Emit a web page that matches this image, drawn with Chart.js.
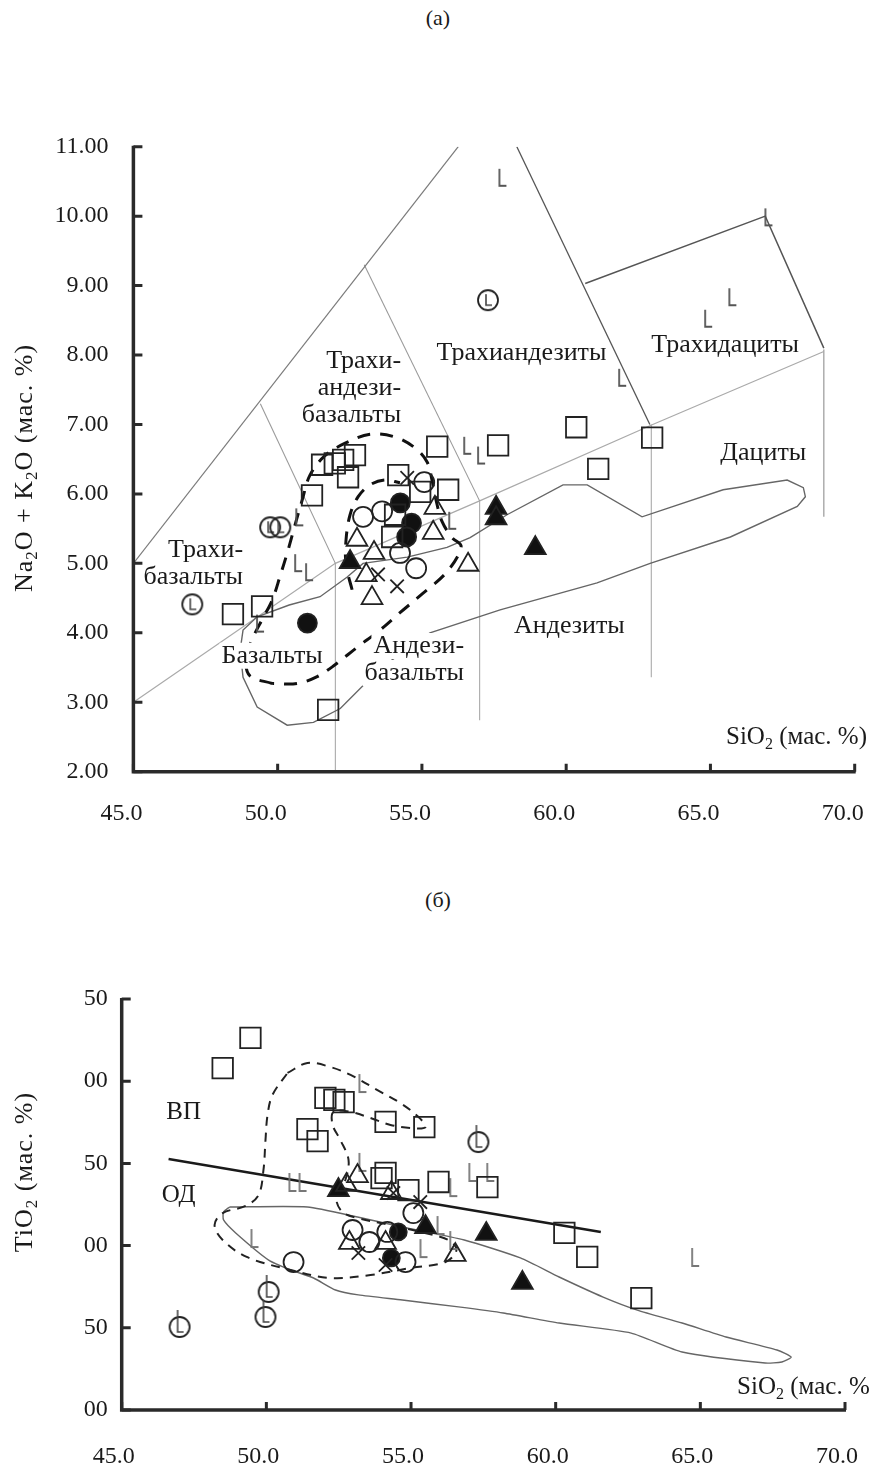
<!DOCTYPE html>
<html>
<head>
<meta charset="utf-8">
<script src="https://cdn.jsdelivr.net/npm/chart.js@4.4.1/dist/chart.umd.min.js"></script>
<style>
  body { margin: 0; background: #fff; width: 876px; height: 1465px; position: relative; overflow: hidden; }
  canvas { position: absolute; left: 0; }
  #tas { top: 0; }
  #ti { top: 860px; }
  .panel { position: absolute; left: 0; width: 876px; text-align: center; font: 22px "Liberation Serif", serif; color: #1a1a1a; }
</style>
</head>
<body>
<div class="panel" style="top:5px">(а)</div>
<canvas id="tas" width="876" height="860"></canvas>
<div class="panel" style="top:887px">(б)</div>
<canvas id="ti" width="876" height="605"></canvas>
<script>
const FONT = '"Liberation Serif", "Times New Roman", serif';
const INK = '#222';

// ---------- panel (а): Na2O+K2O vs SiO2 ----------
const tasXTicks = ['45.0', '50.0', '55.0', '60.0', '65.0', '70.0'];
const tasYTicks = ['2.00', '3.00', '4.00', '5.00', '6.00', '7.00', '8.00', '9.00', '10.00', '11.00'];

const tasSquares = [[60.35, 6.96], [62.98, 6.81], [61.11, 6.36], [57.64, 6.70], [55.53, 6.68], [55.91, 6.06],
  [54.94, 6.03], [54.18, 6.27], [54.07, 5.70], [53.97, 5.38], [51.54, 6.42], [51.98, 6.44], [52.27, 6.49],
  [52.68, 6.56], [52.44, 6.24], [51.19, 5.98], [49.46, 4.38], [48.45, 4.27], [51.75, 2.89]];
const tasCircles = [[52.96, 5.67], [53.62, 5.75], [55.08, 6.17], [54.24, 5.15], [54.80, 4.93]];
const tasCircleL = [[47.04, 4.41], [49.74, 5.52], [50.09, 5.52], [57.29, 8.79]];
const tasTriOpen = [[52.75, 5.34], [53.34, 5.15], [53.07, 4.83], [53.27, 4.50], [55.45, 5.80], [55.39, 5.44], [56.60, 4.98]];
const tasTriFilled = [[52.51, 5.02], [57.57, 5.80], [57.57, 5.65], [58.93, 5.22]];
const tasDots = [[51.03, 4.14], [54.25, 5.87], [54.64, 5.58], [54.47, 5.38]];
const tasCrosses = [[54.49, 6.23], [54.14, 4.67], [53.48, 4.84]];
const tasL = [[57.79, 10.56], [67.01, 9.99], [65.76, 8.84], [64.92, 8.53], [61.94, 7.68], [56.57, 6.70],
  [57.05, 6.56], [56.05, 5.62], [50.75, 5.67], [50.71, 5.01], [51.09, 4.88], [49.39, 4.14]];

// classification boundaries
const tasLineUpper = [[45, 5], [56.26, 11]];
const tasLineTB = [[49.4, 7.3], [52, 5]];
const tasLineBTA = [[53, 9.3], [57, 5.9]];
const tasLineTA = [[58.29, 11], [62.9, 7.0]];
const tasLineTD = [[60.66, 9.03], [66.9, 10.0], [68.93, 8.1]];
const tasLineAlk = [[45, 3], [52, 5], [57, 5.9], [63, 7], [68.93, 8.05]];
const tasV52 = [[52, 2], [52, 5]];
const tasV57 = [[57, 2.74], [57, 5.9]];
const tasV63 = [[62.95, 3.36], [62.95, 7]];
const tasV69 = [[68.93, 5.67], [68.93, 8.08]];
const tasField = [[48.70, 3.75], [48.80, 4.04], [49.29, 4.23], [50.40, 4.40], [51.47, 4.52], [52.40, 4.80],
  [52.96, 5.00], [54.49, 5.09], [55.87, 5.23], [56.67, 5.37], [57.95, 5.70], [59.89, 6.13], [60.73, 6.13],
  [62.63, 5.67], [65.44, 6.06], [67.66, 6.20], [68.22, 6.09], [68.29, 5.96], [68.01, 5.82], [65.69, 5.38],
  [62.91, 5.00], [61.07, 4.72], [57.71, 4.33], [55.28, 4.00], [53.56, 3.49], [52.17, 2.91], [51.24, 2.71],
  [50.33, 2.67], [49.29, 2.93], [48.80, 3.36], [48.70, 3.75]];
const tasDashOuter = [[49.81, 3.27], [49.04, 3.38], [48.90, 3.61], [49.11, 3.90], [49.46, 4.19], [49.81, 4.47],
  [50.08, 4.81], [50.36, 5.19], [50.60, 5.55], [50.85, 5.91], [51.12, 6.27], [51.64, 6.55], [52.34, 6.73],
  [53.20, 6.86], [54.07, 6.82], [54.77, 6.66], [55.18, 6.46], [55.35, 6.20], [55.49, 5.91], [55.70, 5.60],
  [56.05, 5.37], [56.36, 5.24], [55.87, 4.88], [55.01, 4.56], [54.24, 4.29], [53.55, 4.04], [52.75, 3.79],
  [51.99, 3.54], [51.37, 3.37], [50.67, 3.27], [49.81, 3.27]];
const tasDashInner = [[52.58, 4.62], [52.37, 4.98], [52.37, 5.34], [52.51, 5.70], [52.79, 5.96], [53.20, 6.13],
  [53.72, 6.20], [54.24, 6.16]];

const tasLabels = [
  { lines: ['Трахиандезиты'], x: 58.45, y: 8.03, align: 'center' },
  { lines: ['Трахидациты'], x: 65.51, y: 8.14, align: 'center' },
  { lines: ['Дациты'], x: 66.83, y: 6.59, align: 'center' },
  { lines: ['Андезиты'], x: 60.11, y: 4.10, align: 'center' },
  { lines: ['Базальты'], x: 49.81, y: 3.67, align: 'center' },
  { lines: ['Андези-', 'базальты'], x: 56.46, y: 3.81, align: 'right' },
  { lines: ['Трахи-', 'базальты'], x: 48.80, y: 5.19, align: 'right' },
  { lines: ['Трахи-', 'андези-', 'базальты'], x: 54.28, y: 7.91, align: 'right' }
];

// ---------- panel (б): TiO2 vs SiO2 ----------
const tiXTicks = ['45.0', '50.0', '55.0', '60.0', '65.0', '70.0'];
const tiYTicks = ['00', '50', '00', '50', '00', '50'];

const tiSquares = [[48.49, 2.08], [49.45, 2.263], [52.04, 1.898], [52.35, 1.886], [52.67, 1.873], [51.42, 1.709],
  [51.77, 1.636], [54.12, 1.752], [55.46, 1.721], [54.12, 1.442], [53.98, 1.411], [54.91, 1.338], [55.95, 1.387],
  [57.64, 1.356], [60.30, 1.077], [61.09, 0.931], [62.96, 0.681]];
const tiCircleL = [[57.33, 1.63], [50.08, 0.718], [49.97, 0.566], [47.0, 0.505]];
const tiCircles = [[55.08, 1.198], [52.98, 1.095], [53.56, 1.022], [54.18, 1.083], [54.81, 0.900], [50.94, 0.900]];
const tiTriOpen = [[53.15, 1.423], [52.77, 1.369], [52.87, 1.016], [54.12, 1.016], [54.32, 1.32], [56.53, 0.943]];
const tiTriFilled = [[52.49, 1.338], [55.50, 1.113], [57.60, 1.071], [58.85, 0.773]];
const tiDots = [[54.56, 1.083], [54.32, 0.925]];
const tiCrosses = [[54.39, 1.32], [55.32, 1.265], [53.18, 0.955], [54.12, 0.882]];
const tiL = [[53.32, 1.989], [50.90, 1.387], [51.25, 1.387], [53.32, 1.509], [56.46, 1.356], [57.12, 1.448],
  [57.74, 1.448], [49.59, 1.046], [56.02, 1.125], [56.46, 1.034], [55.43, 0.985], [64.82, 0.931]];

const tiDivider = [[46.62, 1.527], [61.56, 1.083]];
const tiField = [[48.73, 1.235], [51.42, 1.235], [53.15, 1.174], [54.70, 1.113], [56.84, 1.034], [58.78, 0.925],
  [60.12, 0.809], [61.64, 0.687], [62.82, 0.608], [64.37, 0.529], [65.89, 0.444], [67.65, 0.365], [68.14, 0.322],
  [67.82, 0.292], [67.24, 0.286], [64.37, 0.353], [62.61, 0.468], [60.12, 0.529], [58.19, 0.590], [56.64, 0.627],
  [54.70, 0.669], [53.18, 0.700], [52.39, 0.730], [51.63, 0.803], [50.84, 0.852], [50.08, 0.912], [48.94, 1.077],
  [48.52, 1.156], [48.52, 1.204], [48.73, 1.235]];
const tiDash = [[50.73, 2.050], [51.42, 2.111], [52.22, 2.086], [52.91, 2.038], [53.84, 1.946], [54.63, 1.867],
  [55.26, 1.782], [55.50, 1.721], [54.98, 1.715], [54.29, 1.734], [53.60, 1.776], [52.91, 1.813], [52.32, 1.813],
  [52.29, 1.734], [52.56, 1.642], [52.84, 1.521], [52.73, 1.399], [52.42, 1.290], [52.63, 1.204], [53.15, 1.168],
  [54.29, 1.125], [55.32, 1.083], [56.29, 1.034], [56.57, 0.973], [56.19, 0.900], [54.98, 0.864], [53.60, 0.821],
  [52.22, 0.803], [50.84, 0.852], [49.32, 0.931], [48.49, 1.034], [48.21, 1.125], [48.49, 1.198], [49.28, 1.241],
  [49.73, 1.308], [49.90, 1.460], [49.97, 1.642], [50.04, 1.794], [50.21, 1.916], [50.73, 2.050]];

const tiLabels = [
  { lines: ['ВП'], x: 47.14, y: 1.807, align: 'center' },
  { lines: ['ОД'], x: 46.97, y: 1.308, align: 'center' }
];

// ---------- marker images ----------
function makeL(h, color) {
  const c = document.createElement('canvas');
  c.width = 14; c.height = h + 6;
  const g = c.getContext('2d');
  g.strokeStyle = color; g.lineWidth = 1.8;
  g.beginPath(); g.moveTo(4, 3); g.lineTo(4, h + 3); g.lineTo(11, h + 3); g.stroke();
  return c;
}
function makeCircleL(stem) {
  const c = document.createElement('canvas');
  c.width = 26; c.height = stem ? 38 : 26;
  const g = c.getContext('2d');
  const cy = c.height / 2;
  g.strokeStyle = INK; g.lineWidth = 1.8;
  g.beginPath(); g.arc(13, cy, 10, 0, Math.PI * 2); g.stroke();
  g.strokeStyle = '#444'; g.lineWidth = 1.6;
  g.beginPath(); g.moveTo(11, stem ? 2 : cy - 6); g.lineTo(11, cy + 5); g.lineTo(17, cy + 5); g.stroke();
  return c;
}

const pts = arr => arr.map(([x, y]) => ({ x, y }));

function lineSet(arr, color, width, dash, tension) {
  return { type: 'scatter', data: pts(arr), showLine: true, borderColor: color, borderWidth: width,
    borderDash: dash || [], pointRadius: 0, tension: tension || 0, fill: false };
}
function markerSet(arr, style, radius, fill, width) {
  return { type: 'scatter', marker: true, data: pts(arr), pointStyle: style, pointRadius: radius,
    pointBackgroundColor: fill || 'rgba(0,0,0,0)', pointBorderColor: INK, pointBorderWidth: width || 1.8 };
}

// rich text with subscripts
function drawRich(ctx, parts, x, y, size, align) {
  const fontOf = p => (p.sub ? Math.round(size * 0.65) : size) + 'px ' + FONT;
  let w = 0;
  parts.forEach(p => { ctx.font = fontOf(p); w += ctx.measureText(p.t).width; });
  let cx = align === 'center' ? x - w / 2 : align === 'right' ? x - w : x;
  ctx.textAlign = 'left'; ctx.textBaseline = 'middle';
  parts.forEach(p => {
    ctx.font = fontOf(p);
    ctx.fillText(p.t, cx, p.sub ? y + size * 0.3 : y);
    cx += ctx.measureText(p.t).width;
  });
}

// region labels on white boxes, drawn between boundary lines and markers
const regionLabels = {
  id: 'regionLabels',
  beforeDatasetsDraw(chart) { chart.$labelsDone = false; },
  beforeDatasetDraw(chart, args, opts) {
    if (chart.$labelsDone || !chart.data.datasets[args.index].marker) return;
    chart.$labelsDone = true;
    const { ctx, scales: { x, y } } = chart;
    ctx.save();
    ctx.font = opts.size + 'px ' + FONT;
    ctx.textBaseline = 'middle'; ctx.textAlign = 'left';
    opts.items.forEach(l => {
      const px = x.getPixelForValue(l.x), py0 = y.getPixelForValue(l.y);
      l.lines.forEach((t, i) => {
        const w = ctx.measureText(t).width, py = py0 + i * 27;
        const left = l.align === 'right' ? px - w : l.align === 'center' ? px - w / 2 : px;
        ctx.fillStyle = '#fff'; ctx.fillRect(left - 2, py - opts.size * 0.5, w + 4, opts.size);
        ctx.fillStyle = '#1a1a1a'; ctx.fillText(t, left, py);
      });
    });
    ctx.restore();
  }
};

// axis lines with inward ticks, axis titles
const axesInward = {
  id: 'axesInward',
  afterDatasetsDraw(chart, args, opts) {
    const { ctx, chartArea: a, scales: { x, y } } = chart;
    ctx.save();
    ctx.strokeStyle = '#2a2a2a'; ctx.lineWidth = 3.5;
    ctx.beginPath();
    ctx.moveTo(a.left, a.top - 1); ctx.lineTo(a.left, a.bottom); ctx.lineTo(a.right + 1, a.bottom);
    ctx.stroke();
    ctx.lineWidth = 3; ctx.beginPath();
    x.ticks.forEach(t => { const px = x.getPixelForValue(t.value); ctx.moveTo(px, a.bottom); ctx.lineTo(px, a.bottom - 8); });
    y.ticks.forEach(t => { const py = y.getPixelForValue(t.value); ctx.moveTo(a.left, py); ctx.lineTo(a.left + 9, py); });
    ctx.stroke();
    ctx.fillStyle = '#1a1a1a';
    drawRich(ctx, opts.xTitle, x.getPixelForValue(opts.xTitleAt[0]), y.getPixelForValue(opts.xTitleAt[1]), 25, 'left');
    ctx.translate(opts.yTitlePos[0], opts.yTitlePos[1]);
    ctx.rotate(-Math.PI / 2);
    if ('letterSpacing' in ctx) ctx.letterSpacing = '1px';
    drawRich(ctx, opts.yTitle, 0, 0, 26, 'center');
    ctx.restore();
  }
};

function axes(xmin, xmax, xLabels, ymin, ymax, ystep, yLabels, yWidth, xOffset, yPad, xPad) {
  const font = { family: FONT, size: 24 };
  return {
    x: { type: 'linear', min: xmin, max: xmax, border: { display: false }, grid: { display: false, drawTicks: false },
      ticks: { stepSize: 5, padding: xPad, labelOffset: xOffset, color: '#1a1a1a', font, maxRotation: 0, autoSkip: false,
        callback: v => xLabels[Math.round((v - xmin) / 5)] },
      afterFit: s => { s.height = 60; s.paddingLeft = 0; s.paddingRight = 0; } },
    y: { type: 'linear', min: ymin, max: ymax, border: { display: false }, grid: { display: false, drawTicks: false },
      ticks: { stepSize: ystep, padding: yPad, color: '#1a1a1a', font, autoSkip: false,
        callback: v => yLabels[Math.round((v - ymin) / ystep)] },
      afterFit: s => { s.width = yWidth; s.paddingTop = 0; s.paddingBottom = 0; } }
  };
}

const baseOpts = { responsive: false, animation: false, devicePixelRatio: 1, events: [],
  plugins: { legend: { display: false }, tooltip: { enabled: false } } };

const Lt = makeL(17, '#555');
const Lb = makeL(18, '#777');

new Chart(document.getElementById('tas'), {
  type: 'scatter',
  data: { datasets: [
    markerSet(tasSquares, 'rect', 14.5),
    markerSet(tasCircles, 'circle', 10),
    markerSet(tasCrosses, 'crossRot', 9.5),
    markerSet(tasTriOpen, 'triangle', 12),
    markerSet(tasTriFilled, 'triangle', 12, '#111'),
    markerSet(tasDots, 'circle', 9.5, '#111'),
    markerSet(tasCircleL, makeCircleL(false), 10),
    markerSet(tasL, Lt, 10),
    lineSet(tasDashOuter, '#111', 3, [13, 10], 0.35),
    lineSet(tasDashInner, '#111', 3, [13, 10], 0.35),
    lineSet(tasField, '#666', 1.4, null, 0),
    lineSet(tasLineUpper, '#7a7a7a', 1.2),
    lineSet(tasLineTB, '#9a9a9a', 1.1),
    lineSet(tasLineBTA, '#9a9a9a', 1.1),
    lineSet(tasLineTA, '#555', 1.3),
    lineSet(tasLineTD, '#555', 1.5),
    lineSet(tasLineAlk, '#aaa', 1.2),
    lineSet(tasV52, '#aaa', 1.1),
    lineSet(tasV57, '#aaa', 1.1),
    lineSet(tasV63, '#aaa', 1.1),
    lineSet(tasV69, '#999', 1.2)
  ] },
  options: { ...baseOpts,
    layout: { padding: { left: 0, right: 21.3, top: 146.7, bottom: 28.3 } },
    scales: axes(45, 70, tasXTicks, 2, 11, 1, tasYTicks, 133.4, -12, 25, 28),
    plugins: { ...baseOpts.plugins,
      regionLabels: { items: tasLabels, size: 26 },
      axesInward: {
        xTitle: [{ t: 'SiO' }, { t: '2', sub: true }, { t: ' (мас. %)' }], xTitleAt: [65.54, 2.50],
        yTitle: [{ t: 'Na' }, { t: '2', sub: true }, { t: 'O + K' }, { t: '2', sub: true }, { t: 'O (мас. %)' }],
        yTitlePos: [25, 468]
      } } },
  plugins: [regionLabels, axesInward]
});

new Chart(document.getElementById('ti'), {
  type: 'scatter',
  data: { datasets: [
    markerSet(tiSquares, 'rect', 14.5),
    markerSet(tiCircles, 'circle', 10),
    markerSet(tiCrosses, 'crossRot', 9.5),
    markerSet(tiTriOpen, 'triangle', 12),
    markerSet(tiTriFilled, 'triangle', 12, '#111'),
    markerSet(tiDots, 'circle', 8.5, '#111'),
    markerSet(tiCircleL, makeCircleL(true), 10),
    markerSet(tiL, Lb, 10),
    lineSet(tiDivider, '#1a1a1a', 2.6),
    lineSet(tiDash, '#222', 2, [9, 7], 0.35),
    lineSet(tiField, '#666', 1.4, null, 0.2)
  ] },
  options: { ...baseOpts,
    layout: { padding: { left: 0, right: 31, top: 139, bottom: -5 } },
    scales: axes(45, 70, tiXTicks, 0, 2.5, 0.5, tiYTicks, 121.7, -8, 14, 32),
    plugins: { ...baseOpts.plugins,
      regionLabels: { items: tiLabels, size: 25 },
      axesInward: {
        xTitle: [{ t: 'SiO' }, { t: '2', sub: true }, { t: ' (мас. %' }], xTitleAt: [66.27, 0.14],
        yTitle: [{ t: 'TiO' }, { t: '2', sub: true }, { t: ' (мас. %)' }],
        yTitlePos: [25, 312]
      } } },
  plugins: [regionLabels, axesInward]
});
</script>
</body>
</html>
